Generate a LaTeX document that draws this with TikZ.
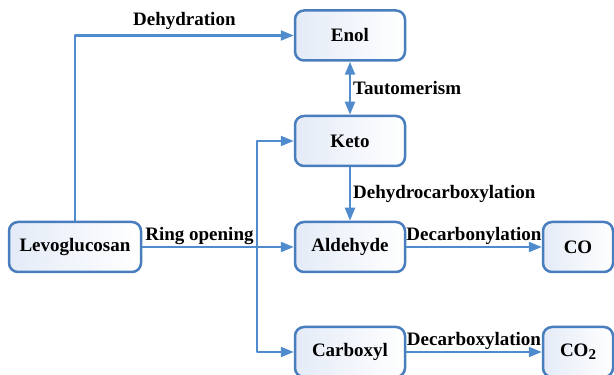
\documentclass[tikz,border=0pt]{standalone}
\usepackage{fontspec}
\setmainfont{Liberation Serif}
\newfontfamily\labelfont{Liberation Serif}
\usetikzlibrary{arrows.meta}
\definecolor{lineblue}{RGB}{80,140,205}
\definecolor{boxblue}{RGB}{72,125,190}
\definecolor{boxfill}{RGB}{228,235,247}
\begin{document}
\begin{tikzpicture}[x=1pt,y=1pt,font=\labelfont\fontsize{19}{22}\selectfont\bfseries,line join=round,
	>={Triangle[length=13pt,width=10pt]},
	box/.style={draw=boxblue,line width=2.5pt,rounded corners=9pt,left color=boxfill,right color=white,
		minimum height=50pt,inner sep=0pt},
	link/.style={draw=lineblue,line width=2.2pt,fill=none}]
\useasboundingbox (0,0) rectangle (614,375);
\node[box,minimum width=132pt] (levo) at (75,128) {Levoglucosan};
\node[box,minimum width=110pt] (enol) at (350,339.5) {Enol};
\node[box,minimum width=110pt] (keto) at (350,234) {Keto};
\node[box,minimum width=110pt] (ald) at (350,128) {Aldehyde};
\node[box,minimum width=110pt] (carb) at (350,23) {Carboxyl};
\node[box,minimum width=70pt] (co) at (578,128) {CO};
\node[box,minimum width=70pt] (co2) at (578,23) {CO\raisebox{-0.3ex}{\fontsize{15}{15}\selectfont 2}};
\coordinate (split) at (257,128);
% pathways
\draw[link,->] (levo.north) |- node[pos=0.75,above,yshift=1pt,text=black]{Dehydration} (enol.west);
\draw[link,->] (levo.east) -- node[pos=0,above right,inner xsep=2pt,inner ysep=1pt,text=black]{Ring opening} (ald.west);
\draw[link,->] (split) |- (keto.west);
\draw[link,->] (split) |- (carb.west);
\draw[link,<->] (enol.south) -- node[right,inner xsep=2pt,text=black]{Tautomerism} (keto.north);
\draw[link,->] (keto.south) -- node[right,inner xsep=2pt,text=black]{Dehydrocarboxylation} (ald.north);
\draw[link,->] (ald.east) -- node[above,inner sep=1pt,text=black]{Decarbonylation} (co.west);
\draw[link,->] (carb.east) -- node[above,inner sep=1pt,text=black]{Decarboxylation} (co2.west);
\end{tikzpicture}
\end{document}
